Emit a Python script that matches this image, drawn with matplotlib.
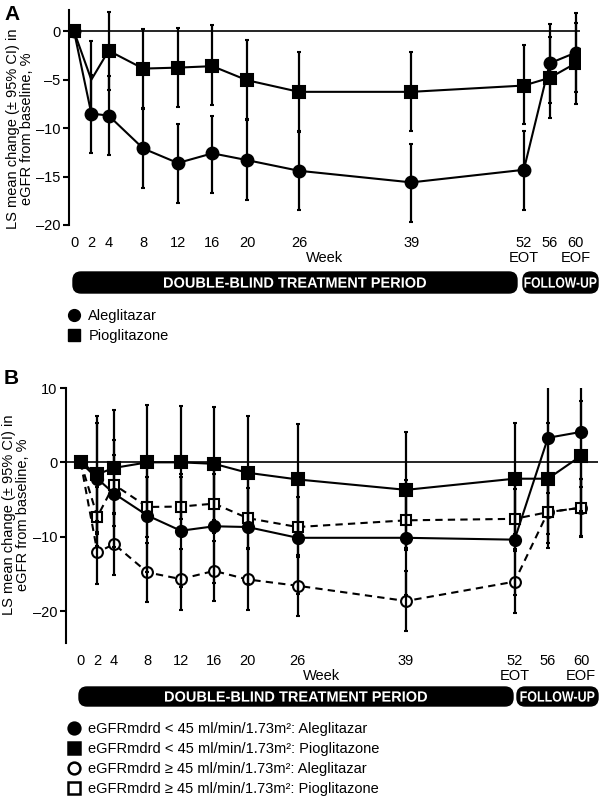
import numpy as np
import matplotlib
matplotlib.use('Agg')
import matplotlib.pyplot as plt
import matplotlib.transforms as mtransforms
from matplotlib.patches import FancyBboxPatch, PathPatch
from matplotlib.lines import Line2D
from matplotlib.textpath import TextPath
from matplotlib.font_manager import FontProperties

plt.rcParams['font.family'] = ['Liberation Sans', 'DejaVu Sans']
plt.rcParams['font.size'] = 10

# ---- panel A data (LS mean change, 95% CI) ----
weeks = [0, 2, 4, 8, 12, 16, 20, 26, 39, 52, 56, 60]
week_labels = ['0', '2', '4', '8', '12', '16', '20', '26', '39', '52', '56', '60']

ale_a = [0, -8.5, -8.7, -12.1, -13.6, -12.6, -13.3, -14.4, -15.6, -14.3, -3.3, -2.2]
ale_a_lo = [0, -12.6, -12.8, -16.2, -17.7, -16.7, -17.4, -18.5, -19.7, -18.5, -7.4, -6.3]
ale_a_hi = [0, -4.5, -4.6, -8.0, -9.6, -8.7, -9.2, -10.3, -11.6, -10.3, 0.8, 1.9]

pio_a = [0, -5.0, -2.0, -3.85, -3.75, -3.6, -5.05, -6.25, -6.25, -5.6, -4.8, -3.3]
pio_a_lo = [0, -9.0, -6.1, -7.9, -7.8, -7.6, -9.1, -10.4, -10.3, -9.6, -9.0, -7.5]
pio_a_hi = [0, -1.0, 2.0, 0.2, 0.3, 0.6, -0.9, -2.1, -2.1, -1.4, -0.6, 0.9]

# ---- panel B data, by baseline eGFR ----
lt45_ale = [0, -2.2, -4.2, -7.15, -9.2, -8.6, -8.7, -10.15, -10.15, -10.4, 3.3, 4.1]
lt45_ale_lo = [0, -9.7, -11.4, -14.8, -16.8, -16.2, -16.3, -17.7, -17.9, -17.9, -4.1, -3.3]
lt45_ale_hi = [0, 5.3, 3.0, 0.5, -1.6, -1.0, -1.1, -2.6, -2.4, -2.9, 10.65, 11.5]

lt45_pio = [0, -1.6, -0.75, 0, 0, -0.2, -1.4, -2.3, -3.7, -2.2, -2.2, 0.9]
lt45_pio_lo = [0, -9.4, -8.5, -7.7, -7.6, -7.8, -9.0, -9.8, -11.5, -9.7, -9.7, -6.5]
lt45_pio_hi = [0, 6.2, 7.0, 7.7, 7.6, 7.4, 6.2, 5.2, 4.1, 5.3, 5.3, 8.3]

ge45_ale = [0, -12.1, -11.0, -14.8, -15.7, -14.6, -15.75, -16.6, -18.65, -16.05, -6.7, -6.1]
ge45_ale_lo = [0, -16.3, -15.2, -18.8, -19.8, -18.65, -19.8, -20.7, -22.7, -20.2, -10.9, -10.0]
ge45_ale_hi = [0, -7.9, -6.8, -10.8, -11.6, -10.55, -11.7, -12.5, -14.6, -11.9, -2.5, -2.2]

ge45_pio = [0, -7.3, -3.0, -6.0, -5.95, -5.55, -7.5, -8.7, -7.8, -7.6, -6.7, -6.1]
ge45_pio_lo = [0, -11.3, -7.0, -10.0, -9.95, -9.55, -11.5, -12.7, -11.8, -11.6, -11.5, -9.9]
ge45_pio_hi = [0, -3.3, 1.0, -2.0, -1.95, -1.55, -3.5, -4.7, -3.8, -3.6, -1.9, -2.3]

legend_a = ['Aleglitazar', 'Pioglitazone']
legend_b = ['eGFRmdrd < 45 ml/min/1.73m²: Aleglitazar',
            'eGFRmdrd < 45 ml/min/1.73m²: Pioglitazone',
            'eGFRmdrd ≥ 45 ml/min/1.73m²: Aleglitazar',
            'eGFRmdrd ≥ 45 ml/min/1.73m²: Pioglitazone']


def fwd(w):
    w = np.asarray(w, float)
    return np.where(w <= 52, w, 52 + (w - 52) * 0.75)


def inv(t):
    t = np.asarray(t, float)
    return np.where(t <= 52, t, 52 + (t - 52) / 0.75)


def series(ax, y, lo, hi, marker, face, ls, ms, markevery=None):
    y = np.array(y)
    err = [y - np.array(lo), np.array(hi) - y]
    ax.errorbar(weeks, y, yerr=err, fmt='none', ecolor='black', elinewidth=1.6,
                capsize=1.5, capthick=1.5, zorder=4)
    ax.plot(weeks, y, color='black', lw=1.5, ls=ls, marker=marker, ms=ms,
            mfc=face, mec='black', mew=1.5, markevery=markevery, zorder=3)


def style(ax, yticks):
    for s in ['top', 'right', 'bottom']:
        ax.spines[s].set_visible(False)
    ax.spines['left'].set_linewidth(1.5)
    ax.axhline(0, color='black', lw=1.2, zorder=2)
    ax.set_yticks(yticks)
    ax.set_yticklabels([str(v) if v >= 0 else '\u2013' + str(-v) for v in yticks])
    ax.tick_params(axis='y', length=4, width=1.5, pad=2, labelsize=10.5)
    ax.tick_params(axis='x', length=0, pad=8, labelsize=10.5)
    ax.set_xticks(weeks)
    ax.set_xticklabels(week_labels)


fig = plt.figure(figsize=(6, 7.98), dpi=100)

# ---- panel A ----
axA = fig.add_axes([69 / 600, 1 - 225 / 798, 511 / 600, 215 / 798])
axA.set_xscale('function', functions=(fwd, inv))
series(axA, ale_a, ale_a_lo, ale_a_hi, 'o', 'black', '-', 8.5)
series(axA, pio_a, pio_a_lo, pio_a_hi, 's', 'black', '-', 8.5,
       markevery=[0, 2, 3, 4, 5, 6, 7, 8, 9, 10, 11])
axA.set_xlim(-0.58, 60.66)
axA.set_ylim(-20, 2.2)
style(axA, [0, -5, -10, -15, -20])
axA.text(29, -23.4, 'Week', ha='center', va='center', fontsize=10.5)
axA.text(52, -23.4, 'EOT', ha='center', va='center', fontsize=10.5)
axA.text(60, -23.4, 'EOF', ha='center', va='center', fontsize=10.5)

# ---- panel B ----
axB = fig.add_axes([66 / 600, 1 - 643 / 798, 532 / 600, 255 / 798])
series(axB, ge45_ale, ge45_ale_lo, ge45_ale_hi, 'o', 'white', (0, (3.5, 2.5)), 7.8)
series(axB, ge45_pio, ge45_pio_lo, ge45_pio_hi, 's', 'white', (0, (3.5, 2.5)), 7.8)
series(axB, lt45_ale, lt45_ale_lo, lt45_ale_hi, 'o', 'black', '-', 8)
series(axB, lt45_pio, lt45_pio_lo, lt45_pio_hi, 's', 'black', '-', 8)
axB.set_xlim(-1.76, 62)
axB.set_ylim(-24.3, 10)
style(axB, [10, 0, -10, -20])
axB.text(28.9, -28.8, 'Week', ha='center', va='center', fontsize=10.5)
axB.text(52, -28.8, 'EOT', ha='center', va='center', fontsize=10.5)
axB.text(60, -28.8, 'EOF', ha='center', va='center', fontsize=10.5)

# y labels and panel letters
ylab = 'LS mean change (\u00b1 95% CI) in\neGFR from baseline, %'
fig.text(20 / 600, 1 - 129 / 798, ylab, rotation=90, ha='center', va='center',
         fontsize=10.5, linespacing=1.05)
fig.text(16 / 600, 1 - 515 / 798, ylab, rotation=90, ha='center', va='center',
         fontsize=10.5, linespacing=1.05)
fig.text(4 / 600, 1 - 15 / 798, 'A', fontsize=15, fontweight='bold', va='center')
fig.text(4 / 600, 1 - 379 / 798, 'B', fontsize=15, fontweight='bold', va='center')

# period bars drawn in a pixel-space overlay
deco = fig.add_axes([0, 0, 1, 1])
deco.set_xlim(0, 600)
deco.set_ylim(798, 0)
deco.axis('off')
deco.patch.set_alpha(0)
bold = FontProperties(family='Liberation Sans', weight='bold')


def period_box(x0, x1, y0, y1, label, text_w, cap_h=10.5):
    deco.add_patch(FancyBboxPatch((x0, y0), x1 - x0, y1 - y0,
                                  boxstyle='round,pad=0,rounding_size=8',
                                  fc='black', ec='black', lw=1))
    tp = TextPath((0, 0), label, size=20, prop=bold)
    bb = tp.get_extents()
    tr = (mtransforms.Affine2D()
          .translate(-bb.x0 - bb.width / 2, -bb.y0 - bb.height / 2)
          .scale(text_w / bb.width, -cap_h / bb.height)
          .translate((x0 + x1) / 2, (y0 + y1) / 2))
    deco.add_patch(PathPatch(tr.transform_path(tp), fc='white', ec='none'))


period_box(73, 517, 272, 293, 'DOUBLE-BLIND TREATMENT PERIOD', 262)
period_box(523, 598, 272, 293, 'FOLLOW-UP', 72)
period_box(79, 513, 687, 706, 'DOUBLE-BLIND TREATMENT PERIOD', 262)
period_box(517, 598, 687, 706, 'FOLLOW-UP', 74)

# legends
h_a = [Line2D([], [], ls='none', marker='o', ms=8.5, mfc='black', mec='black'),
       Line2D([], [], ls='none', marker='s', ms=8.5, mfc='black', mec='black')]
fig.legend(h_a, legend_a, loc='upper left', bbox_to_anchor=(68 / 600, 1 - 309 / 798),
           frameon=False, fontsize=10.5, handlelength=0.8, handletextpad=0.6,
           labelspacing=0.42, borderpad=0, borderaxespad=0)

h_b = [Line2D([], [], ls='none', marker='o', ms=8.5, mfc='black', mec='black', mew=1.8),
       Line2D([], [], ls='none', marker='s', ms=8.5, mfc='black', mec='black', mew=1.8),
       Line2D([], [], ls='none', marker='o', ms=8.5, mfc='white', mec='black', mew=1.8),
       Line2D([], [], ls='none', marker='s', ms=8.5, mfc='white', mec='black', mew=1.8)]
fig.legend(h_b, legend_b, loc='upper left', bbox_to_anchor=(68 / 600, 1 - 722 / 798),
           frameon=False, fontsize=10.5, handlelength=0.8, handletextpad=0.6,
           labelspacing=0.42, borderpad=0, borderaxespad=0)

fig.savefig('out.png', dpi=100)
